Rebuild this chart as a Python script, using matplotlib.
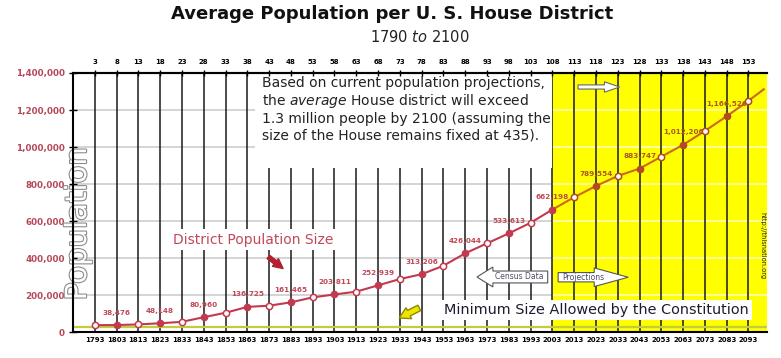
import numpy as np
import matplotlib.pyplot as plt
import matplotlib.patheffects as pe
from matplotlib.patches import Rectangle, FancyArrow
from matplotlib.ticker import FuncFormatter

# --- data ---
years = [1793, 1803, 1813, 1823, 1833, 1843, 1853, 1863, 1873, 1883, 1893,
         1903, 1913, 1923, 1933, 1943, 1953, 1963, 1973, 1983, 1993, 2003,
         2013, 2023, 2033, 2043, 2053, 2063, 2073, 2083, 2093]
congress = [3, 8, 13, 18, 23, 28, 33, 38, 43, 48, 53, 58, 63, 68, 73, 78,
            83, 88, 93, 98, 103, 108, 113, 118, 123, 128, 133, 138, 143, 148, 153]
district_pop = [38000, 38476, 42000, 48148, 56000, 80960, 105000, 136725,
                143000, 161465, 188000, 203811, 219000, 252939, 287000, 313206,
                359000, 426044, 480000, 533613, 591000, 662198, 729000, 789554,
                844000, 883747, 948000, 1012206, 1087000, 1166526, 1250000]
end_year = 2100
end_pop = 1312000
minimum_size = 30000
proj_start = 2003
y_ticks = [0, 200000, 400000, 600000, 800000, 1000000, 1200000, 1400000]

RED = '#c23a50'
ORANGE = '#cc6a1a'
BROWN = '#b24a22'
LBL_RED = '#c04a58'
LBL_BRN = '#a85a20'

fig = plt.figure(figsize=(7.81, 3.58), dpi=100)
ax = fig.add_axes([0.0935, 0.0721, 0.8886, 0.7240])
x0, x1 = 1783, 2101.5
ax.set_xlim(x0, x1)
ax.set_ylim(0, 1400000)

# background: projection zone + grid + vertical decade lines
ax.axvspan(proj_start, x1, color='#ffff00', lw=0, zorder=0.5)
ax.hlines(y_ticks[1:-1], x0, proj_start, colors='#cdcdcd', lw=1.2, zorder=1)
ax.hlines(y_ticks[1:-1], proj_start, x1, colors='#ffffb4', lw=1.2, zorder=1)
ax.vlines(years, 0, 1400000, colors='#1a1a1a', lw=1.1, zorder=2)
ax.axhline(minimum_size, color='#c4cc3a', lw=1.6, zorder=2.5)

# white panel behind the note
ax.add_patch(Rectangle((1866.5, 0.633), proj_start - 1866.5, 0.367,
                       transform=ax.get_xaxis_transform(),
                       facecolor='white', edgecolor='none', zorder=3))

# --- the population line ---
yrs = np.array(years)
pop = np.array(district_pop)
hist = yrs <= proj_start
ax.plot(yrs[hist], pop[hist], color=RED, lw=1.5, zorder=4)
ax.plot([proj_start] + list(yrs[~hist]) + [end_year],
        [pop[hist][-1]] + list(pop[~hist]) + [end_pop], color=ORANGE, lw=1.5, zorder=4)

for i, (yr, v) in enumerate(zip(years, district_pop)):
    c = RED if yr <= proj_start else BROWN
    if i % 2 == 1:
        ax.plot(yr, v, 'o', ms=4.5, mfc=c, mec=c, zorder=5)
        ax.annotate(f'{v:,}', (yr, v), xytext=(0, 9), textcoords='offset points',
                    ha='center', va='center', fontsize=5.2, fontweight='bold',
                    color=LBL_RED if yr <= proj_start else LBL_BRN, zorder=5)
    else:
        ax.plot(yr, v, 'o', ms=4.5, mfc='white', mec=c, mew=1.1, zorder=5)

# --- text and arrows ---
note = ('Based on current population projections,\n'
        r'the $\mathit{average}$ House district will exceed' '\n'
        '1.3 million people by 2100 (assuming the\n'
        'size of the House remains fixed at 435).')
ax.text(0.272, 0.99, note, transform=ax.transAxes, ha='left', va='top',
        fontsize=10, linespacing=1.2, color='#222222', zorder=4)

ax.text(0.144, 0.356, 'District Population Size', transform=ax.transAxes,
        ha='left', va='center', fontsize=10, color=LBL_RED, zorder=4,
        bbox=dict(boxstyle='square,pad=0.25', facecolor='white', edgecolor='none'))
ax.annotate('', xy=(0.3058, 0.239), xytext=(0.2784, 0.297), xycoords='axes fraction',
            arrowprops=dict(arrowstyle='simple,head_width=0.7,head_length=0.7,tail_width=0.3',
                            color='#b02030', mutation_scale=10), zorder=6)

ax.text(0.5346, 0.0857, 'Minimum Size Allowed by the Constitution', transform=ax.transAxes,
        ha='left', va='center', fontsize=10.4, color='#1c1c30', zorder=6,
        bbox=dict(boxstyle='square,pad=0.22', facecolor='white', edgecolor='none'))
ax.annotate('', xy=(0.4665, 0.050), xytext=(0.5025, 0.0984), xycoords='axes fraction',
            arrowprops=dict(arrowstyle='simple,head_width=0.8,head_length=0.7,tail_width=0.4',
                            facecolor='#f2e400', edgecolor='#8a8a00', mutation_scale=11), zorder=6)

ax.add_patch(FancyArrow(0.684, 0.213, -0.102, 0, width=0.046, head_width=0.077,
                        head_length=0.023, length_includes_head=True,
                        transform=ax.transAxes, facecolor='white', edgecolor='#555555',
                        lw=0.8, zorder=6))
ax.text(0.643, 0.213, 'Census Data', transform=ax.transAxes, ha='center', va='center',
        fontsize=5.5, color='#4a4a6a', zorder=7)
ax.add_patch(FancyArrow(0.699, 0.212, 0.101, 0, width=0.036, head_width=0.072,
                        head_length=0.049, length_includes_head=True,
                        transform=ax.transAxes, facecolor='white', edgecolor='#555555',
                        lw=0.8, zorder=6))
ax.text(0.736, 0.212, 'Projections', transform=ax.transAxes, ha='center', va='center',
        fontsize=5.5, color='#4a4a6a', zorder=7)
ax.add_patch(FancyArrow(0.7277, 0.946, 0.060, 0, width=0.016, head_width=0.04,
                        head_length=0.022, length_includes_head=True,
                        transform=ax.transAxes, facecolor='white', edgecolor='#666666',
                        lw=0.8, zorder=6))

ax.text(0.0072, 0.419, 'Population', transform=ax.transAxes, rotation=90,
        ha='center', va='center', fontsize=21, color='white', zorder=7,
        path_effects=[pe.withStroke(linewidth=1.6, foreground='#8c8c8c')])
ax.text(0.994, 0.336, 'http://thisnation.org', transform=ax.transAxes, rotation=270,
        ha='center', va='center', fontsize=4.8, color='#222222', zorder=7)

# --- axes styling ---
for s in ['left', 'bottom', 'top']:
    ax.spines[s].set_linewidth(1.5)
    ax.spines[s].set_zorder(8)
ax.spines['right'].set_visible(False)

ax.set_xticks(years)
ax.set_xticklabels([str(y) for y in years], fontsize=5, fontweight='bold')
ax.tick_params(axis='x', length=0, pad=3.5)
ax.set_yticks(y_ticks)
ax.yaxis.set_major_formatter(FuncFormatter(lambda v, p: f'{int(v):,}'))
ax.tick_params(axis='y', direction='inout', length=6, width=1, pad=3,
               labelsize=6.3, labelcolor='#b5495b')
for t in ax.get_yticklabels():
    t.set_fontweight('bold')

ax2 = ax.twiny()
ax2.set_xlim(x0, x1)
ax2.set_xticks(years)
ax2.set_xticklabels([str(c) for c in congress], fontsize=5, fontweight='bold')
ax2.tick_params(axis='x', direction='inout', length=5, width=1, pad=3)
for s in ['left', 'bottom', 'right']:
    ax2.spines[s].set_visible(False)
ax2.spines['top'].set_linewidth(1.5)

fig.text(0.502, 0.961, 'Average Population per U. S. House District',
         ha='center', va='center', fontsize=13, fontweight='bold', color='#111111')
fig.text(0.538, 0.897, r'1790 $\mathit{to}$ 2100', ha='center', va='center',
         fontsize=10.5, color='#222222')

fig.savefig('out.png', dpi=100)
